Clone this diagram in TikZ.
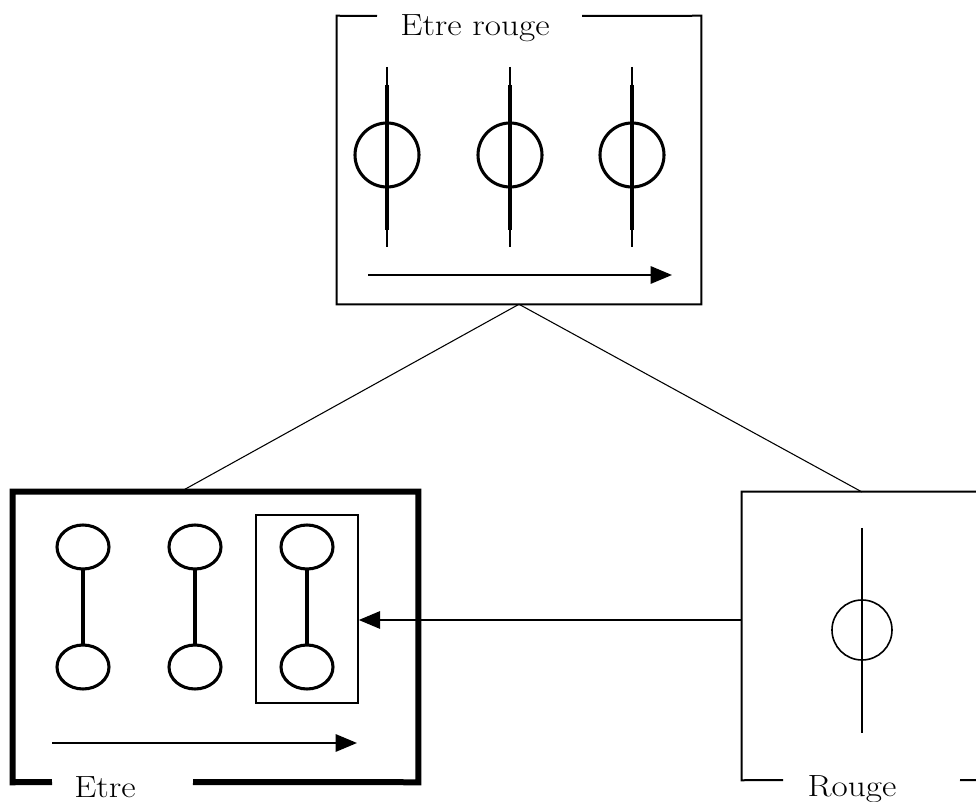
\documentclass[tikz,border=0pt]{standalone}
\usepackage{fontspec}
\usetikzlibrary{arrows.meta,calc}
\begin{document}
\begin{tikzpicture}[x=0.75pt,y=-0.75pt,
  boxnode/.style={rectangle,inner sep=0pt,draw=none},
  lbl/.style={inner sep=0pt,anchor=base,font=\fontsize{23}{26}\selectfont,xscale=1.15},
  flow/.style={line width=1.5pt,-{Triangle[length=16pt,width=13pt]}},
  conn/.style={line width=0.8pt},
  ring/.style={line width=2.3pt},
  link/.style={line width=2.3pt}]
\useasboundingbox (0,0) rectangle (976,802);
% box nodes
\node[boxnode,minimum width=273pt,minimum height=216pt] (top) at (519,160) {};
\node[boxnode,minimum width=303.75pt,minimum height=217.5pt] (left) at (215.5,637) {};
\node[boxnode,minimum width=180pt,minimum height=216pt] (right) at (862,636) {};
\node[boxnode,draw,line width=1.1pt,minimum width=76.5pt,minimum height=141pt] (inner) at (307,609) {};
% labels
\node[lbl] (ltop) at (475,36) {Etre rouge};
\node[lbl] (lleft) at (105,797) {Etre};
\node[lbl] (lright) at (852,796) {Rouge};
% top box border with gap
\draw[line width=1.5pt] (377,16) -- (top.north west) -- (top.south west) -- (top.south east) -- (top.north east) -- (582,16);
% left box border with gap
\draw[line width=4.5pt] (52,782) -- (left.south west) -- (left.north west) -- (left.north east) -- (left.south east) -- (193,782);
% right box border with gap
\draw[line width=1.5pt] (783,780) -- (right.south west) -- (right.north west) -- (right.north east);
\draw[line width=1.5pt] (960,780) -- (right.south east);
% connectors
\coordinate (lc) at (180,492);
\coordinate (rc) at (862,492);
\draw[conn] (top.south) -- (lc);
\draw[conn] (top.south) -- (rc);
% top box content
\foreach \x in {387,510,632}{
  \draw[line width=1.5pt] (\x,67) -- (\x,247);
  \draw[line width=2.6pt] (\x,85) -- (\x,230);
  \draw[ring] (\x,155) circle[radius=32];
}
\coordinate (ta) at (368,275);
\coordinate (tb) at (672,275);
\draw[flow] (ta) -- (tb);
% left box content
\foreach \x in {83,195,307}{
  \draw[ring] (\x,547) ellipse[x radius=26,y radius=22];
  \draw[ring] (\x,667) ellipse[x radius=26,y radius=22];
  \draw[link] (\x,569) -- (\x,645);
}
\coordinate (la) at (52,743);
\coordinate (lb) at (357,743);
\draw[flow] (la) -- (lb);
% right box content
\draw[line width=1.2pt] (862,528) -- (862,733);
\draw[line width=1.2pt] (862,630) circle[radius=30];
% horizontal arrow
\coordinate (rin) at (742,620);
\draw[flow] (rin) -- (inner.east |- rin);
\end{tikzpicture}
\end{document}
